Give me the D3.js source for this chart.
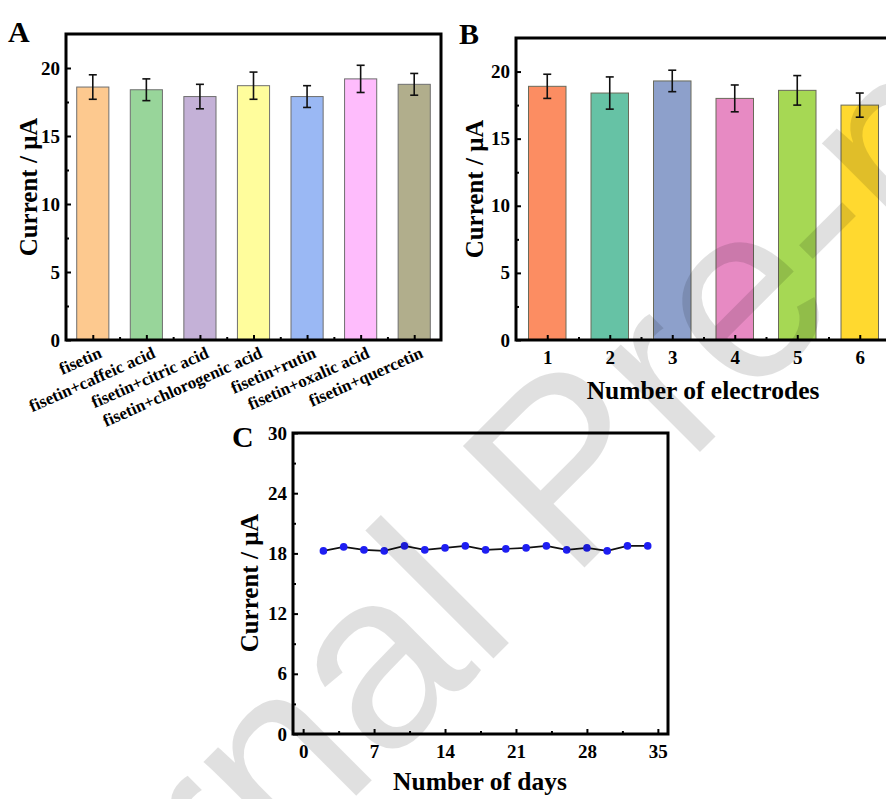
<!DOCTYPE html>
<html>
<head>
<meta charset="utf-8">
<script src="https://cdn.jsdelivr.net/npm/d3@7"></script>
<style>
  body { margin: 0; background: #fff; }
  svg { display: block; }
  text { font-family: "Liberation Serif", "Times New Roman", serif; font-weight: bold; }
</style>
</head>
<body>
<svg id="chart" width="886" height="799"></svg>
<script>
// panel A: interference study
var interferents = ["fisetin", "fisetin+caffeic acid", "fisetin+citric acid", "fisetin+chlorogenic acid",
  "fisetin+rutin", "fisetin+oxalic acid", "fisetin+quercetin"];
var interfValues = [18.6, 18.4, 17.9, 18.7, 17.9, 19.2, 18.8];
var interfErrors = [0.9, 0.8, 0.9, 1.0, 0.8, 1.0, 0.8];
var interfColors = ["#fdc98f", "#98d59a", "#c4b1d7", "#fffd9c", "#9ab8f4", "#febcfc", "#b1ae8c"];

// panel B: reproducibility
var electrodes = [1, 2, 3, 4, 5, 6];
var electrodeValues = [18.9, 18.4, 19.3, 18.0, 18.6, 17.5];
var electrodeErrors = [0.9, 1.2, 0.8, 1.0, 1.1, 0.9];
var electrodeColors = ["#fc8d62", "#66c2a5", "#8da0cb", "#e78ac3", "#a6d854", "#ffd92f"];

// panel C: stability
var days = [2, 4, 6, 8, 10, 12, 14, 16, 18, 20, 22, 24, 26, 28, 30, 32, 34];
var dayValues = [18.25, 18.65, 18.35, 18.25, 18.75, 18.35, 18.55, 18.75, 18.35, 18.45,
  18.55, 18.75, 18.35, 18.55, 18.25, 18.75, 18.75];

var svg = d3.select("#chart");

// black box round a panel
function frame(g, x, y, w, h) {
  g.append("rect")
    .attr("x", x).attr("y", y)
    .attr("width", w).attr("height", h)
    .attr("fill", "none")
    .attr("stroke", "#000")
    .attr("stroke-width", 3);
}

function styleLabels(sel) {
  sel.selectAll("text").attr("font-size", 19).attr("fill", "#000")
    .style("font-family", "'Liberation Serif', serif");
}

function yAxis(g, left, yScale, major, minor, pad) {
  g.append("g")
    .attr("transform", "translate(" + left + ",0)")
    .call(d3.axisLeft(yScale).tickValues(minor).tickSizeInner(-3).tickSizeOuter(0).tickFormat(""))
    .call(s => s.select(".domain").remove())
    .selectAll("line").attr("stroke-width", 2);
  var ax = g.append("g")
    .attr("transform", "translate(" + left + ",0)")
    .call(d3.axisLeft(yScale).tickValues(major).tickSizeInner(-5).tickSizeOuter(0).tickPadding(pad))
    .call(s => s.select(".domain").remove());
  ax.selectAll("line").attr("stroke-width", 2);
  styleLabels(ax);
}

function xTicks(g, bottom, xScale, major, minor) {
  g.append("g")
    .attr("transform", "translate(0," + bottom + ")")
    .call(d3.axisBottom(xScale).tickValues(minor).tickSizeInner(-3).tickSizeOuter(0).tickFormat(""))
    .call(s => s.select(".domain").remove())
    .selectAll("line").attr("stroke-width", 2);
  var ax = g.append("g")
    .attr("transform", "translate(0," + bottom + ")")
    .call(d3.axisBottom(xScale).tickValues(major).tickFormat(d3.format("d"))
      .tickSizeInner(-5).tickSizeOuter(0).tickPadding(11))
    .call(s => s.select(".domain").remove());
  ax.selectAll("line").attr("stroke-width", 2);
  styleLabels(ax);
  return ax;
}

function errorBars(g, xs, vals, errs, yScale) {
  var eb = g.append("g").selectAll("g").data(vals).enter().append("g")
    .attr("stroke", "#111").attr("stroke-width", 1.6);
  eb.append("line")
    .attr("x1", (d, i) => xs(i)).attr("x2", (d, i) => xs(i))
    .attr("y1", (d, i) => yScale(d - errs[i])).attr("y2", (d, i) => yScale(d + errs[i]));
  eb.append("line")
    .attr("x1", (d, i) => xs(i) - 4).attr("x2", (d, i) => xs(i) + 4)
    .attr("y1", (d, i) => yScale(d + errs[i])).attr("y2", (d, i) => yScale(d + errs[i]));
  eb.append("line")
    .attr("x1", (d, i) => xs(i) - 4).attr("x2", (d, i) => xs(i) + 4)
    .attr("y1", (d, i) => yScale(d - errs[i])).attr("y2", (d, i) => yScale(d - errs[i]));
}

function yTitle(g, cx, cy) {
  g.append("text")
    .attr("transform", "translate(" + cx + "," + cy + ") rotate(-90)")
    .attr("text-anchor", "middle")
    .attr("dy", "0.35em")
    .attr("font-size", 25)
    .text("Current / μA");
}

// ---------- A ----------
var gA = svg.append("g");
var xA = d3.scaleBand().domain(interferents).range([66, 441]).paddingInner(0.4).paddingOuter(0.2);
var yA = d3.scaleLinear().domain([0, 22.5]).range([340, 34]);

gA.selectAll("rect.bar").data(interfValues).enter().append("rect")
  .attr("class", "bar")
  .attr("x", (d, i) => xA(interferents[i]))
  .attr("width", xA.bandwidth())
  .attr("y", d => yA(d))
  .attr("height", d => yA(0) - yA(d))
  .attr("fill", (d, i) => interfColors[i])
  .attr("stroke", "#6f6f6f")
  .attr("stroke-width", 1);

errorBars(gA, i => xA(interferents[i]) + xA.bandwidth() / 2, interfValues, interfErrors, yA);
yAxis(gA, 66, yA, [0, 5, 10, 15, 20], [2.5, 7.5, 12.5, 17.5], 6);

// ticks at band centres, minor ones between bars
var xAc = d3.scaleLinear().domain([0, 7]).range([66, 441]);
xTicks(gA, 340, xAc, d3.range(7).map(i => i + 0.5), d3.range(1, 7))
  .selectAll("text").remove();
gA.selectAll("text.xl").data(interferents).enter().append("text")
  .attr("class", "xl")
  .attr("transform", d => "translate(" + (xA(d) + xA.bandwidth() / 2 + 10) + ",357) rotate(-24)")
  .attr("text-anchor", "end")
  .attr("font-size", 17)
  .text(d => d);
frame(gA, 66, 34, 375, 306);
yTitle(gA, 28, 187);
gA.append("text").attr("x", 8).attr("y", 42).attr("font-size", 30).text("A");

// ---------- B ----------
var gB = svg.append("g");
var xB = d3.scaleLinear().domain([0.5, 6.5]).range([516, 891]);
var yB = d3.scaleLinear().domain([0, 22.5]).range([340, 38]);

gB.selectAll("rect.bar").data(electrodeValues).enter().append("rect")
  .attr("class", "bar")
  .attr("x", (d, i) => xB(electrodes[i] - 0.3))
  .attr("width", xB(0.6) - xB(0))
  .attr("y", d => yB(d))
  .attr("height", d => yB(0) - yB(d))
  .attr("fill", (d, i) => electrodeColors[i])
  .attr("stroke", "#6a6a5a")
  .attr("stroke-width", 1);

errorBars(gB, i => xB(electrodes[i]), electrodeValues, electrodeErrors, yB);
yAxis(gB, 516, yB, [0, 5, 10, 15, 20], [2.5, 7.5, 12.5, 17.5], 6);
xTicks(gB, 340, xB, electrodes, [1.5, 2.5, 3.5, 4.5, 5.5]);
frame(gB, 516, 38, 375, 302);
yTitle(gB, 474, 189);
gB.append("text").attr("x", 703).attr("y", 399).attr("text-anchor", "middle").attr("font-size", 25.5)
  .text("Number of electrodes");
gB.append("text").attr("x", 459).attr("y", 44).attr("font-size", 30).text("B");

// ---------- C ----------
var gC = svg.append("g");
var xC = d3.scaleLinear().domain([-1, 36]).range([293, 668]);
var yC = d3.scaleLinear().domain([0, 30]).range([734, 433]);

yAxis(gC, 293, yC, [0, 6, 12, 18, 24, 30], [3, 9, 15, 21, 27], 6);
xTicks(gC, 734, xC, [0, 7, 14, 21, 28, 35], [3.5, 10.5, 17.5, 24.5, 31.5]);

var line = d3.line().x((d, i) => xC(days[i])).y(d => yC(d));
gC.append("path").datum(dayValues)
  .attr("d", line)
  .attr("fill", "none")
  .attr("stroke", "#111")
  .attr("stroke-width", 1.6);
gC.selectAll("circle").data(dayValues).enter().append("circle")
  .attr("cx", (d, i) => xC(days[i]))
  .attr("cy", d => yC(d))
  .attr("r", 3.8)
  .attr("fill", "#1e1ef2");
frame(gC, 293, 433, 375, 301);
yTitle(gC, 249, 583);
gC.append("text").attr("x", 480).attr("y", 790).attr("text-anchor", "middle").attr("font-size", 25.5)
  .text("Number of days");
gC.append("text").attr("x", 232).attr("y", 447).attr("font-size", 30).text("C");

// watermark
svg.append("text")
  .attr("transform", "translate(-59,1211) rotate(-45)")
  .attr("font-size", 250)
  .style("font-family", "'Liberation Sans', Arial, sans-serif")
  .style("font-weight", "normal")
  .attr("fill", "#000")
  .attr("fill-opacity", 0.12)
  .text("Journal Pre-proof");
</script>
</body>
</html>
